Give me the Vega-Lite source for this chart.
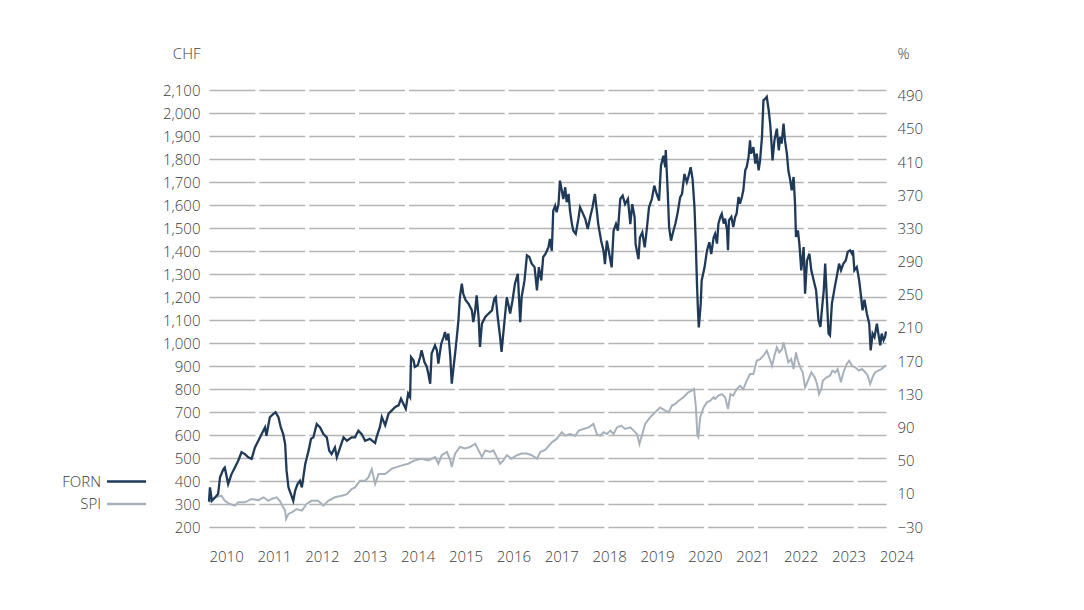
{
  "$schema": "https://vega.github.io/schema/vega-lite/v6.json",
  "autosize": {"type": "none"},
  "width": 677,
  "height": 437,
  "padding": {"left": 209, "top": 90, "right": 198, "bottom": 83},
  "background": "white",
  "config": {
    "view": {"stroke": null},
    "font": "Open Sans",
    "axis": {"labelFont": "Open Sans", "labelFontSize": 15, "labelFontWeight": 300, "labelColor": "#3c3c3c", "titleFont": "Open Sans", "titleFontSize": 15, "titleFontWeight": 300, "titleColor": "#3c3c3c", "domain": false, "ticks": false, "tickSize": 0},
    "legend": {"labelFont": "Open Sans", "labelFontSize": 15, "labelFontWeight": 300, "labelColor": "#3c3c3c"}
  },
  "datasets": {
    "forn": [
      {"t":2010.00,"v":310},{"t":2010.02,"v":372},{"t":2010.06,"v":314},{"t":2010.13,"v":329},{"t":2010.19,"v":343},{"t":2010.23,"v":416},{"t":2010.30,"v":452},{"t":2010.33,"v":459},{"t":2010.40,"v":387},{"t":2010.47,"v":430},{"t":2010.54,"v":459},{"t":2010.61,"v":488},{"t":2010.68,"v":525},{"t":2010.75,"v":517},{"t":2010.82,"v":503},{"t":2010.89,"v":496},{"t":2010.96,"v":546},
      {"t":2011.03,"v":575},{"t":2011.10,"v":604},{"t":2011.17,"v":633},{"t":2011.20,"v":597},{"t":2011.27,"v":677},{"t":2011.34,"v":691},{"t":2011.39,"v":699},{"t":2011.45,"v":677},{"t":2011.50,"v":633},{"t":2011.55,"v":604},{"t":2011.59,"v":561},{"t":2011.62,"v":445},{"t":2011.66,"v":372},{"t":2011.71,"v":343},{"t":2011.76,"v":314},{"t":2011.80,"v":358},{"t":2011.85,"v":387},{"t":2011.90,"v":401},{"t":2011.94,"v":372},{"t":2011.97,"v":416},
      {"t":2012.01,"v":474},{"t":2012.08,"v":532},{"t":2012.13,"v":583},{"t":2012.18,"v":590},{"t":2012.25,"v":648},{"t":2012.32,"v":633},{"t":2012.39,"v":604},{"t":2012.46,"v":590},{"t":2012.51,"v":532},{"t":2012.56,"v":517},{"t":2012.63,"v":546},{"t":2012.67,"v":503},{"t":2012.74,"v":546},{"t":2012.81,"v":590},{"t":2012.88,"v":575},{"t":2012.98,"v":590},
      {"t":2013.05,"v":590},{"t":2013.12,"v":619},{"t":2013.19,"v":604},{"t":2013.26,"v":575},{"t":2013.36,"v":583},{"t":2013.47,"v":565},{"t":2013.50,"v":591},{"t":2013.57,"v":635},{"t":2013.61,"v":678},{"t":2013.68,"v":642},{"t":2013.75,"v":693},{"t":2013.82,"v":707},{"t":2013.89,"v":722},{"t":2013.96,"v":729},
      {"t":2014.01,"v":758},{"t":2014.06,"v":736},{"t":2014.11,"v":714},{"t":2014.16,"v":780},{"t":2014.20,"v":765},{"t":2014.22,"v":939},{"t":2014.27,"v":925},{"t":2014.30,"v":896},{"t":2014.36,"v":903},{"t":2014.41,"v":939},{"t":2014.44,"v":968},{"t":2014.50,"v":917},{"t":2014.55,"v":896},{"t":2014.58,"v":867},{"t":2014.62,"v":823},{"t":2014.65,"v":954},{"t":2014.72,"v":990},{"t":2014.76,"v":968},{"t":2014.79,"v":910},{"t":2014.85,"v":997},{"t":2014.90,"v":1026},{"t":2014.93,"v":1048},{"t":2014.96,"v":1012},
      {"t":2015.00,"v":1041},{"t":2015.04,"v":939},{"t":2015.07,"v":823},{"t":2015.14,"v":954},{"t":2015.17,"v":1012},{"t":2015.21,"v":1099},{"t":2015.24,"v":1200},{"t":2015.28,"v":1258},{"t":2015.31,"v":1214},{"t":2015.36,"v":1186},{"t":2015.42,"v":1171},{"t":2015.49,"v":1142},{"t":2015.52,"v":1091},{"t":2015.56,"v":1142},{"t":2015.59,"v":1207},{"t":2015.63,"v":1113},{"t":2015.66,"v":983},{"t":2015.70,"v":1084},{"t":2015.77,"v":1113},{"t":2015.84,"v":1128},{"t":2015.91,"v":1142},{"t":2015.96,"v":1193},{"t":2015.99,"v":1200},
      {"t":2016.03,"v":1113},{"t":2016.08,"v":1026},{"t":2016.11,"v":961},{"t":2016.16,"v":1070},{"t":2016.22,"v":1200},{"t":2016.29,"v":1128},{"t":2016.34,"v":1186},{"t":2016.39,"v":1258},{"t":2016.45,"v":1301},{"t":2016.50,"v":1091},{"t":2016.53,"v":1200},{"t":2016.59,"v":1272},{"t":2016.64,"v":1381},{"t":2016.69,"v":1374},{"t":2016.74,"v":1345},{"t":2016.80,"v":1330},{"t":2016.85,"v":1229},{"t":2016.89,"v":1330},{"t":2016.94,"v":1272},{"t":2016.98,"v":1374},
      {"t":2017.03,"v":1388},{"t":2017.09,"v":1416},{"t":2017.12,"v":1452},{"t":2017.16,"v":1401},{"t":2017.19,"v":1575},{"t":2017.23,"v":1597},{"t":2017.26,"v":1568},{"t":2017.30,"v":1604},{"t":2017.33,"v":1706},{"t":2017.37,"v":1662},{"t":2017.40,"v":1626},{"t":2017.44,"v":1677},{"t":2017.47,"v":1612},{"t":2017.51,"v":1648},{"t":2017.54,"v":1575},{"t":2017.58,"v":1517},{"t":2017.61,"v":1488},{"t":2017.66,"v":1474},{"t":2017.72,"v":1546},{"t":2017.75,"v":1590},{"t":2017.80,"v":1568},{"t":2017.86,"v":1539},{"t":2017.91,"v":1496},{"t":2017.96,"v":1546},
      {"t":2018.01,"v":1590},{"t":2018.06,"v":1648},{"t":2018.10,"v":1575},{"t":2018.13,"v":1517},{"t":2018.19,"v":1445},{"t":2018.24,"v":1401},{"t":2018.27,"v":1343},{"t":2018.31,"v":1445},{"t":2018.36,"v":1387},{"t":2018.41,"v":1329},{"t":2018.45,"v":1488},{"t":2018.50,"v":1517},{"t":2018.54,"v":1488},{"t":2018.59,"v":1626},{"t":2018.64,"v":1641},{"t":2018.69,"v":1604},{"t":2018.75,"v":1626},{"t":2018.80,"v":1517},{"t":2018.84,"v":1604},{"t":2018.89,"v":1546},{"t":2018.91,"v":1430},{"t":2018.97,"v":1365},
      {"t":2019.00,"v":1459},{"t":2019.05,"v":1481},{"t":2019.10,"v":1416},{"t":2019.14,"v":1488},{"t":2019.19,"v":1590},{"t":2019.25,"v":1626},{"t":2019.30,"v":1684},{"t":2019.35,"v":1648},{"t":2019.40,"v":1619},{"t":2019.44,"v":1771},{"t":2019.49,"v":1814},{"t":2019.53,"v":1764},{"t":2019.54,"v":1839},{"t":2019.58,"v":1662},{"t":2019.61,"v":1503},{"t":2019.65,"v":1445},{"t":2019.70,"v":1488},{"t":2019.74,"v":1517},{"t":2019.79,"v":1568},{"t":2019.84,"v":1633},{"t":2019.88,"v":1648},{"t":2019.93,"v":1735},{"t":2019.98,"v":1699},
      {"t":2020.01,"v":1720},{"t":2020.06,"v":1764},{"t":2020.10,"v":1713},{"t":2020.14,"v":1590},{"t":2020.17,"v":1416},{"t":2020.19,"v":1271},{"t":2020.21,"v":1155},{"t":2020.23,"v":1068},{"t":2020.27,"v":1170},{"t":2020.29,"v":1271},{"t":2020.35,"v":1329},{"t":2020.40,"v":1401},{"t":2020.45,"v":1438},{"t":2020.49,"v":1387},{"t":2020.54,"v":1459},{"t":2020.57,"v":1475},{"t":2020.61,"v":1432},{"t":2020.64,"v":1519},{"t":2020.68,"v":1548},{"t":2020.71,"v":1562},{"t":2020.75,"v":1519},{"t":2020.78,"v":1541},{"t":2020.82,"v":1490},{"t":2020.84,"v":1403},{"t":2020.86,"v":1533},{"t":2020.91,"v":1548},{"t":2020.95,"v":1504},{"t":2020.99,"v":1548},
      {"t":2021.02,"v":1562},{"t":2021.06,"v":1635},{"t":2021.09,"v":1606},{"t":2021.13,"v":1635},{"t":2021.16,"v":1664},{"t":2021.20,"v":1751},{"t":2021.23,"v":1765},{"t":2021.27,"v":1809},{"t":2021.30,"v":1881},{"t":2021.32,"v":1823},{"t":2021.37,"v":1852},{"t":2021.41,"v":1780},{"t":2021.44,"v":1823},{"t":2021.48,"v":1751},{"t":2021.51,"v":1794},{"t":2021.55,"v":1896},{"t":2021.58,"v":2055},{"t":2021.62,"v":2062},{"t":2021.65,"v":2070},{"t":2021.69,"v":2012},{"t":2021.72,"v":1954},{"t":2021.74,"v":1896},{"t":2021.77,"v":1794},{"t":2021.81,"v":1881},{"t":2021.86,"v":1932},{"t":2021.90,"v":1838},{"t":2021.93,"v":1896},{"t":2021.96,"v":1867},
      {"t":2022.00,"v":1954},{"t":2022.03,"v":1881},{"t":2022.07,"v":1823},{"t":2022.10,"v":1751},{"t":2022.14,"v":1707},{"t":2022.17,"v":1664},{"t":2022.21,"v":1722},{"t":2022.24,"v":1606},{"t":2022.26,"v":1461},{"t":2022.30,"v":1490},{"t":2022.33,"v":1432},{"t":2022.37,"v":1316},{"t":2022.42,"v":1417},{"t":2022.45,"v":1214},{"t":2022.49,"v":1359},{"t":2022.54,"v":1388},{"t":2022.58,"v":1316},{"t":2022.63,"v":1272},{"t":2022.68,"v":1229},{"t":2022.73,"v":1099},{"t":2022.77,"v":1070},{"t":2022.80,"v":1142},{"t":2022.84,"v":1229},{"t":2022.87,"v":1345},{"t":2022.91,"v":1171},{"t":2022.94,"v":1041},{"t":2022.97,"v":1033},
      {"t":2023.01,"v":1171},{"t":2023.07,"v":1243},{"t":2023.11,"v":1287},{"t":2023.16,"v":1345},{"t":2023.20,"v":1316},{"t":2023.25,"v":1345},{"t":2023.30,"v":1359},{"t":2023.34,"v":1396},{"t":2023.39,"v":1403},{"t":2023.43,"v":1388},{"t":2023.45,"v":1403},{"t":2023.48,"v":1316},{"t":2023.53,"v":1330},{"t":2023.58,"v":1272},{"t":2023.62,"v":1200},{"t":2023.65,"v":1142},{"t":2023.69,"v":1188},{"t":2023.74,"v":1128},{"t":2023.79,"v":1084},{"t":2023.82,"v":968},{"t":2023.86,"v":1041},{"t":2023.90,"v":1026},{"t":2023.95,"v":1084},{"t":2023.98,"v":1041},
      {"t":2024.02,"v":990},{"t":2024.05,"v":1041},{"t":2024.09,"v":1012},{"t":2024.12,"v":1026},{"t":2024.14,"v":1050}
    ],
    "spi": [
      {"t":2010.00,"v":0},{"t":2010.13,"v":5.8},{"t":2010.26,"v":7.7},{"t":2010.33,"v":1.6},{"t":2010.44,"v":-2.3},{"t":2010.54,"v":-4.2},{"t":2010.61,"v":-0.3},{"t":2010.75,"v":-0.3},{"t":2010.89,"v":3.8},
      {"t":2011.03,"v":2.4},{"t":2011.14,"v":5.8},{"t":2011.24,"v":1.6},{"t":2011.31,"v":3.8},{"t":2011.41,"v":5.8},{"t":2011.48,"v":1.6},{"t":2011.53,"v":-4.2},{"t":2011.59,"v":-10.3},{"t":2011.61,"v":-20.3},{"t":2011.66,"v":-14.2},{"t":2011.73,"v":-12.3},{"t":2011.83,"v":-8.4},{"t":2011.94,"v":-10.3},
      {"t":2012.04,"v":-2.3},{"t":2012.14,"v":1.6},{"t":2012.28,"v":1.6},{"t":2012.39,"v":-4.2},{"t":2012.49,"v":1.6},{"t":2012.63,"v":5.8},{"t":2012.77,"v":7.7},{"t":2012.88,"v":9.6},{"t":2012.98,"v":15.8},
      {"t":2013.05,"v":17.7},{"t":2013.15,"v":25.7},{"t":2013.26,"v":25.7},{"t":2013.33,"v":29.9},{"t":2013.40,"v":39.9},{"t":2013.47,"v":21.9},{"t":2013.54,"v":33.8},{"t":2013.68,"v":34},{"t":2013.82,"v":40.4},
      {"t":2014.03,"v":44.3},{"t":2014.16,"v":46.3},{"t":2014.30,"v":50.4},{"t":2014.44,"v":52.4},{"t":2014.58,"v":50.4},{"t":2014.72,"v":54.3},{"t":2014.79,"v":46.3},{"t":2014.86,"v":56.5},{"t":2014.97,"v":60.4},
      {"t":2015.04,"v":50.4},{"t":2015.07,"v":42.4},{"t":2015.14,"v":58.5},{"t":2015.24,"v":66.5},{"t":2015.35,"v":64.6},{"t":2015.45,"v":66.5},{"t":2015.56,"v":70.4},{"t":2015.63,"v":62.4},{"t":2015.70,"v":54.3},{"t":2015.77,"v":62.4},{"t":2015.87,"v":60.4},{"t":2015.94,"v":62.4},
      {"t":2016.01,"v":54.3},{"t":2016.08,"v":46.3},{"t":2016.15,"v":50.4},{"t":2016.22,"v":56.5},{"t":2016.32,"v":52.4},{"t":2016.43,"v":56.5},{"t":2016.53,"v":58.5},{"t":2016.64,"v":58.5},{"t":2016.74,"v":56.5},{"t":2016.85,"v":52.4},{"t":2016.92,"v":60.4},
      {"t":2017.02,"v":63},{"t":2017.16,"v":72.1},{"t":2017.26,"v":76.2},{"t":2017.37,"v":84.3},{"t":2017.44,"v":80.1},{"t":2017.54,"v":82.1},{"t":2017.65,"v":80.1},{"t":2017.72,"v":86.2},{"t":2017.82,"v":88.2},{"t":2017.93,"v":90.1},
      {"t":2018.03,"v":94.3},{"t":2018.10,"v":82.1},{"t":2018.17,"v":80.1},{"t":2018.24,"v":84.3},{"t":2018.31,"v":82.1},{"t":2018.38,"v":86.2},{"t":2018.45,"v":82.1},{"t":2018.52,"v":90.1},{"t":2018.61,"v":92.3},{"t":2018.69,"v":88.2},{"t":2018.80,"v":90.1},{"t":2018.87,"v":86.2},{"t":2018.94,"v":82.1},{"t":2018.99,"v":70.1},
      {"t":2019.05,"v":82.1},{"t":2019.11,"v":94.3},{"t":2019.21,"v":102.3},{"t":2019.32,"v":108.4},{"t":2019.42,"v":114.2},{"t":2019.53,"v":110.3},{"t":2019.60,"v":108.4},{"t":2019.67,"v":116.4},{"t":2019.74,"v":118.4},{"t":2019.81,"v":122.3},{"t":2019.91,"v":126.4},
      {"t":2020.01,"v":132.5},{"t":2020.08,"v":134.5},{"t":2020.13,"v":136.4},{"t":2020.17,"v":114.2},{"t":2020.20,"v":80.1},{"t":2020.22,"v":78.2},{"t":2020.26,"v":102.3},{"t":2020.33,"v":114.2},{"t":2020.40,"v":120.3},{"t":2020.47,"v":122.3},{"t":2020.54,"v":126.4},{"t":2020.57,"v":124.5},{"t":2020.64,"v":128.4},{"t":2020.71,"v":130.3},{"t":2020.78,"v":126.4},{"t":2020.84,"v":112.3},{"t":2020.89,"v":130.3},{"t":2020.95,"v":128.4},
      {"t":2021.02,"v":136.4},{"t":2021.09,"v":140.3},{"t":2021.16,"v":136.4},{"t":2021.23,"v":146.4},{"t":2021.30,"v":154.5},{"t":2021.37,"v":154.5},{"t":2021.44,"v":170.5},{"t":2021.51,"v":172.5},{"t":2021.58,"v":176.6},{"t":2021.65,"v":182.7},{"t":2021.70,"v":174.7},{"t":2021.76,"v":164.4},{"t":2021.81,"v":176.6},{"t":2021.86,"v":186.6},{"t":2021.91,"v":180.5},{"t":2021.97,"v":184.7},
      {"t":2022.00,"v":192.7},{"t":2022.05,"v":180.5},{"t":2022.10,"v":168.6},{"t":2022.16,"v":172.5},{"t":2022.21,"v":160.5},{"t":2022.26,"v":180.5},{"t":2022.30,"v":170.5},{"t":2022.35,"v":162.5},{"t":2022.40,"v":156.4},{"t":2022.45,"v":138.4},{"t":2022.51,"v":146.4},{"t":2022.58,"v":156.4},{"t":2022.65,"v":150.6},{"t":2022.70,"v":142.5},{"t":2022.74,"v":130.3},{"t":2022.79,"v":136.4},{"t":2022.82,"v":146.4},{"t":2022.90,"v":150.6},{"t":2022.97,"v":152.5},
      {"t":2023.02,"v":158.6},{"t":2023.08,"v":156.4},{"t":2023.13,"v":160.5},{"t":2023.20,"v":144.5},{"t":2023.25,"v":156.4},{"t":2023.32,"v":166.7},{"t":2023.37,"v":170.5},{"t":2023.43,"v":164.4},{"t":2023.50,"v":162.5},{"t":2023.57,"v":158.6},{"t":2023.64,"v":160.5},{"t":2023.71,"v":156.4},{"t":2023.76,"v":152.5},{"t":2023.81,"v":142.5},{"t":2023.86,"v":150.6},{"t":2023.91,"v":156.4},{"t":2023.98,"v":158.6},
      {"t":2024.05,"v":160.5},{"t":2024.12,"v":164.4},{"t":2024.14,"v":165}
    ]
  },
  "layer": [
    {
      "data": {"name": "spi"},
      "mark": {"type": "line", "strokeWidth": 2, "interpolate": "linear"},
      "encoding": {
        "x": {"field": "t", "type": "quantitative", "scale": {"domain": [2010, 2024.14], "nice": false, "zero": false},
          "axis": {"title": null, "values": [2010,2011,2012,2013,2014,2015,2016,2017,2018,2019,2020,2021,2022,2023,2024], "format": "d", "labelAlign": "left", "labelBaseline": "middle", "labelPadding": 29, "grid": false, "labelBound": false, "labelFlush": false}},
        "y": {"field": "v", "type": "quantitative", "scale": {"domain": [-30, 497], "nice": false, "zero": false},
          "axis": {"orient": "right", "title": "%", "titleAngle": 0, "titleX": 11, "titleY": -37, "titleAlign": "left", "titleBaseline": "middle", "values": [-30,10,50,90,130,170,210,250,290,330,370,410,450,490], "format": "d", "labelAlign": "left", "labelBaseline": "middle", "labelPadding": 11, "grid": false}},
        "color": {"datum": "SPI", "type": "nominal", "scale": {"domain": ["FORN", "SPI"], "range": ["#1f3a58", "#a7b1bb"]},
          "legend": {"title": null, "orient": "none", "legendX": -90, "legendY": 384, "symbolType": "M-4,0H4", "symbolSize": 95, "symbolStrokeWidth": 2.5, "labelAlign": "right", "labelOffset": -33, "rowPadding": 6.6, "padding": 0}}
      }
    },
    {
      "data": {"name": "forn"},
      "mark": {"type": "line", "strokeWidth": 2.3, "interpolate": "linear"},
      "encoding": {
        "x": {"field": "t", "type": "quantitative"},
        "y": {"field": "v", "type": "quantitative", "scale": {"domain": [200, 2100], "nice": false, "zero": false},
          "axis": {"orient": "left", "title": "CHF", "titleAngle": 0, "titleX": -9, "titleY": -37, "titleAlign": "right", "titleBaseline": "middle", "values": [200,300,400,500,600,700,800,900,1000,1100,1200,1300,1400,1500,1600,1700,1800,1900,2000,2100], "format": ",d", "labelAlign": "right", "labelBaseline": "middle", "labelPadding": 9, "grid": true, "gridColor": "#b4b4b4", "gridWidth": 1.5, "gridDash": [45.9, 3.96]}},
        "color": {"datum": "FORN", "type": "nominal"}
      }
    }
  ],
  "resolve": {"scale": {"y": "independent"}, "axis": {"y": "independent"}}
}
